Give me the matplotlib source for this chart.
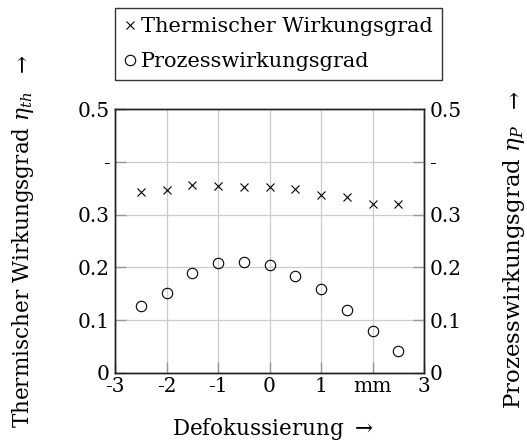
import matplotlib
matplotlib.use("Agg")
import matplotlib.pyplot as plt

plt.rcParams["font.family"] = ["DejaVu Serif"]
plt.rcParams["mathtext.fontset"] = "dejavuserif"

defocus = [-2.5, -2, -1.5, -1, -0.5, 0, 0.5, 1, 1.5, 2, 2.5]
eta_th = [0.343, 0.347, 0.356, 0.355, 0.352, 0.352, 0.348, 0.337, 0.333, 0.321, 0.321]
eta_p = [0.126, 0.152, 0.190, 0.208, 0.210, 0.205, 0.184, 0.159, 0.119, 0.080, 0.042]

xticks = [-3, -2, -1, 0, 1, 2, 3]
xticklabels = ["-3", "-2", "-1", "0", "1", "mm", "3"]
yticks = [0, 0.1, 0.2, 0.3, 0.4, 0.5]
yticklabels = ["0", "0.1", "0.2", "0.3", "-", "0.5"]

fs = 14.5
lfs = 15.5
W, H = 527, 444
fig = plt.figure(figsize=(W / 100, H / 100), dpi=100)
ax = fig.add_axes([115 / W, 1 - 373 / H, 309 / W, 264 / H])
ax2 = ax.twinx()

l1, = ax.plot(defocus, eta_th, "x", color="k", markersize=5.5, markeredgewidth=0.8,
              label="Thermischer Wirkungsgrad")
l2, = ax.plot(defocus, eta_p, "o", color="k", markerfacecolor="none", markersize=7.5,
              markeredgewidth=0.8, label="Prozesswirkungsgrad")

for a in (ax, ax2):
    a.set_xlim(-3, 3)
    a.set_ylim(0, 0.5)
    a.set_yticks(yticks)
    a.set_yticklabels(yticklabels, fontsize=fs)
    a.tick_params(direction="in", length=8, color="#999999", width=1, pad=4)
    for s in a.spines.values():
        s.set_color("#222222")
        s.set_linewidth(1.0)
ax.set_xticks(xticks)
ax.set_xticklabels(xticklabels, fontsize=fs)
ax.tick_params(axis="x", pad=3)
ax.grid(True, color="#cccccc", linewidth=0.9)
ax.set_axisbelow(True)

# axis labels with arrows
fig.text(273 / W, 1 - 429 / H, r"Defokussierung $\rightarrow$", ha="center", va="center",
         fontsize=lfs)
fig.text(23 / W, 1 - 260 / H, r"Thermischer Wirkungsgrad $\eta_{th}$",
         rotation=90, ha="center", va="center", fontsize=lfs)
fig.text(23 / W, 1 - 66 / H, r"$\rightarrow$", rotation=90, ha="center", va="center",
         fontsize=lfs)
fig.text(514 / W, 1 - 267 / H, r"Prozesswirkungsgrad $\eta_P$",
         rotation=90, ha="center", va="center", fontsize=16.5)
fig.text(515 / W, 1 - 102 / H, r"$\rightarrow$", rotation=90, ha="center", va="center",
         fontsize=lfs)

fig.legend(handles=[l1, l2], loc="upper left", bbox_to_anchor=(115 / W, 1 - 8 / H),
           fontsize=15, fancybox=False, edgecolor="#333333", framealpha=1,
           handlelength=0.5, handletextpad=0.3, borderpad=0.45, labelspacing=0.75,
           borderaxespad=0)

fig.savefig("out.png", dpi=100)
